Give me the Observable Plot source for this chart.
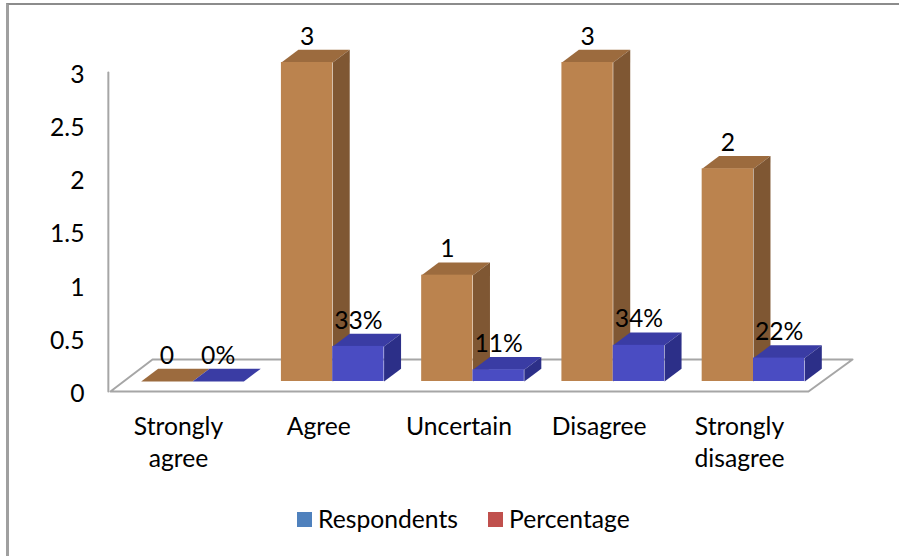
<!DOCTYPE html>
<html>
<head>
<meta charset="utf-8">
<script src="https://cdn.jsdelivr.net/npm/d3@7"></script>
<script src="https://cdn.jsdelivr.net/npm/@observablehq/plot@0.6"></script>
<style>
  html, body { margin: 0; padding: 0; width: 899px; height: 556px; overflow: hidden; background: #fff; }
  body { position: relative; font-family: Lato, "Open Sans", sans-serif; color: #000; }
  #frame { position: absolute; left: 6px; top: 3px; width: 1000px; height: 1000px;
           border-top: 2px solid #8c8c8c; border-left: 3px solid #a0a0a0; }
  #chart { position: absolute; left: 0; top: 0; }
  #chart svg { display: block; background: transparent; }
  #legend { position: absolute; left: 297px; top: 503px; display: flex; align-items: center;
            font-size: 24.7px; line-height: 32px; }
  #legend span.swatch { display: inline-block; width: 15px; height: 15px; margin-right: 6px; }
  #legend span.entry { display: inline-flex; align-items: center; margin-right: 30px; }
</style>
</head>
<body>
<div id="frame"></div>
<div id="chart"></div>
<div id="legend"></div>
<script>
// Survey responses per answer, with the share of all respondents.
const categories = ["Strongly\nagree", "Agree", "Uncertain", "Disagree", "Strongly\ndisagree"];
const respondents = [0, 3, 1, 3, 2];
const percentage = [0, 0.33, 0.11, 0.34, 0.22];
const yTicks = [0, 0.5, 1, 1.5, 2, 2.5, 3];
const legendEntries = [["Respondents", "#4f81bd"], ["Percentage", "#c0504d"]];

// Oblique projection of the bars, expressed in data units.
const barWidth = 0.366;
const depthX = 0.121;
const depthY = 0.12;
const brown = {front: "#bb834e", top: "#9c6b3e", side: "#7f5733"};
const blue = {front: "#4a4cc2", top: "#3a3ca4", side: "#2c2f88"};

// Floor plate and back line of the chart box.
const floorBottom = -0.094;
const floorTop = 0.207;
const floorLeft = -0.585;
const floorRight = 4.392;
const floorBackLeft = -0.285;
const floorBackRight = 4.706;
const wallX = -0.6;
const wallTop = 2.906;

const floor = [
  {x: floorBackLeft, y: floorTop},
  {x: floorBackRight, y: floorTop},
  {x: floorRight, y: floorBottom},
  {x: floorLeft, y: floorBottom},
  {x: floorBackLeft, y: floorTop}
];
const wall = [{x: wallX, y: wallTop}, {x: wallX, y: floorBottom}];

// Top and side faces of one bar, as polygons for Plot.line.
function faces(values, offset, colors, name) {
  return values.flatMap((v, i) => {
    const x0 = i + offset, x1 = x0 + barWidth;
    const top = [[x0, v], [x1, v], [x1 + depthX, v + depthY], [x0 + depthX, v + depthY]];
    const side = [[x1, 0], [x1 + depthX, depthY], [x1 + depthX, v + depthY], [x1, v]];
    return [
      ...top.map(([x, y]) => ({x, y, id: `${name}-top-${i}`, color: colors.top})),
      ...side.map(([x, y]) => ({x, y, id: `${name}-side-${i}`, color: colors.side}))
    ];
  });
}

const fronts = (values, offset) =>
  values.map((v, i) => ({x1: i + offset, x2: i + offset + barWidth, y1: 0, y2: v}));

const labels = [
  ...respondents.map((v, i) => ({x: i - barWidth / 2, y: v + depthY, text: String(v)})),
  ...percentage.map((v, i) => ({x: i + barWidth / 2, y: v + depthY, text: `${Math.round(v * 100)}%`}))
];

const faceOptions = {x: "x", y: "y", z: "id", fill: "color", stroke: "none"};
const height = 490;
const fontSize = 24.7;

const chart = Plot.plot({
  width: 899,
  height,
  marginLeft: 90,
  marginBottom: 109,
  marginTop: 20,
  marginRight: 20,
  style: {background: "transparent", fontFamily: "Lato, 'Open Sans', sans-serif", fontSize: `${fontSize}px`, color: "#000", overflow: "visible"},
  x: {type: "linear", domain: [0, 4], range: [192, 753]},
  y: {type: "linear", domain: [0, 3], range: [381, 62]},
  color: {type: "identity"},
  marks: [
    // Box: back line, floor plate, value-axis wall
    Plot.line(floor, {x: "x", y: "y", fill: "#fff", stroke: "#a6a6a6", strokeWidth: 2}),
    Plot.line(wall, {x: "x", y: "y", stroke: "#a6a6a6", strokeWidth: 2}),
    // Respondents bars
    Plot.line(faces(respondents, -barWidth, brown, "respondents"), faceOptions),
    Plot.rect(fronts(respondents, -barWidth), {x1: "x1", x2: "x2", y1: "y1", y2: "y2", fill: brown.front}),
    // Percentage bars
    Plot.line(faces(percentage, 0, blue, "percentage"), faceOptions),
    Plot.rect(fronts(percentage, 0), {x1: "x1", x2: "x2", y1: "y1", y2: "y2", fill: blue.front}),
    // Axes
    Plot.axisY(yTicks, {anchor: "left", tickSize: 0, tickPadding: 6, dy: 12.5, label: null, tickFormat: d => String(d), fontSize, fill: "#000"}),
    Plot.axisX(d3.range(categories.length), {anchor: "bottom", tickSize: 0, tickPadding: 31, dx: -14, label: null, tickFormat: i => categories[i], lineHeight: 1.3, lineAnchor: "top", fontSize, fill: "#000"}),
    // Value labels above each bar
    Plot.text(labels, {x: "x", y: "y", text: "text", dy: -13, fontSize, fill: "#000"})
  ]
});
document.getElementById("chart").append(chart);

// Legend keys sit under the plot.
const legend = document.getElementById("legend");
for (const [name, color] of legendEntries) {
  const entry = document.createElement("span");
  entry.className = "entry";
  const swatch = document.createElement("span");
  swatch.className = "swatch";
  swatch.style.background = color;
  entry.append(swatch, document.createTextNode(name));
  legend.append(entry);
}
</script>
</body>
</html>
